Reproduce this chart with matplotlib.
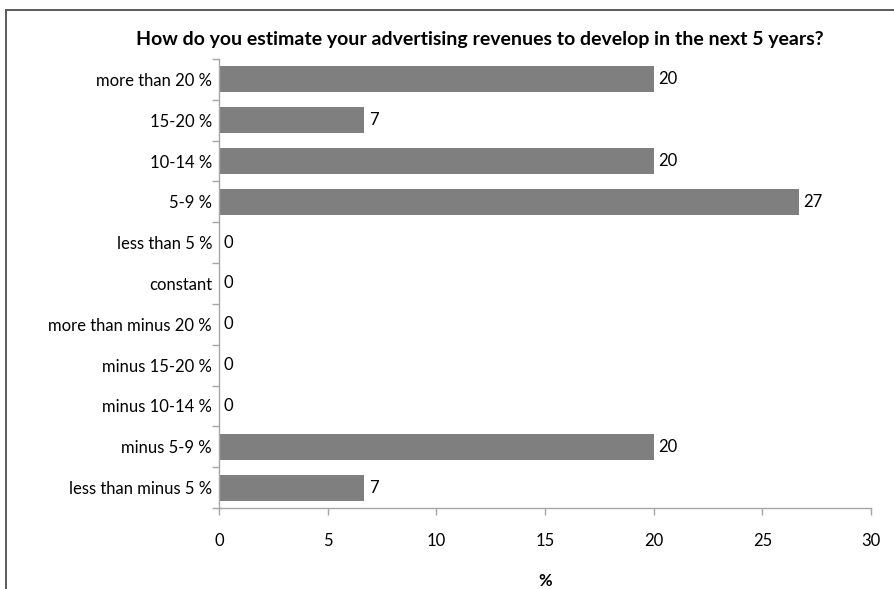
import matplotlib
matplotlib.use("Agg")
import matplotlib.pyplot as plt
from matplotlib.patches import Rectangle
from matplotlib.ticker import FixedLocator, NullFormatter

plt.rcParams['font.family'] = ['Lato', 'DejaVu Sans']

categories = [
    "more than 20 %", "15-20 %", "10-14 %", "5-9 %", "less than 5 %",
    "constant", "more than minus 20 %", "minus 15-20 %", "minus 10-14 %",
    "minus 5-9 %", "less than minus 5 %",
]
values = [20.0, 6.67, 20.0, 26.67, 0, 0, 0, 0, 0, 20.0, 6.67]
x_ticks = [0, 5, 10, 15, 20, 25, 30]

title = "How do you estimate your advertising revenues to develop in the next 5 years?"

W, H = 895, 589
FS = 12
fig = plt.figure(figsize=(W / 100, H / 100), dpi=100)
fig.patch.set_facecolor("white")

# outer chart frame (runs off the right and bottom edges)
fig.patches.append(Rectangle((6 / W, -0.1), 1.2, 1 - 10 / H + 0.1,
                             transform=fig.transFigure, fill=False,
                             edgecolor="#5a5a5a", linewidth=1.4))

ax = fig.add_axes([219 / W, 1 - 508 / H, (871 - 219) / W, (508 - 59) / H])

n = len(categories)
ypos = list(range(n))
ax.barh(ypos, values, height=0.64, color="#7f7f7f", zorder=2)
ax.set_ylim(n - 0.5, -0.5)
ax.set_xlim(0, 30)

for y, v in zip(ypos, values):
    ax.annotate(f"{v:.0f}", (v, y), xytext=(3.5, 0), textcoords="offset points",
                va="center", ha="left", fontsize=FS, color="black")

# y axis: labels at category centres, ticks at category boundaries
ax.set_yticks(ypos)
ax.set_yticklabels(categories, fontsize=FS)
ax.tick_params(axis="y", which="major", length=0, pad=5)
ax.yaxis.set_minor_locator(FixedLocator([i - 0.5 for i in range(n + 1)]))
ax.yaxis.set_minor_formatter(NullFormatter())
ax.tick_params(axis="y", which="minor", length=5, width=1, color="#a6a6a6")

ax.set_xticks(x_ticks)
ax.set_xticklabels([str(t) for t in x_ticks], fontsize=FS)
ax.tick_params(axis="x", length=5, width=1, color="#a6a6a6", pad=13)

for s in ("top", "right"):
    ax.spines[s].set_visible(False)
for s in ("left", "bottom"):
    ax.spines[s].set_color("#a6a6a6")
    ax.spines[s].set_linewidth(1.0)

ax.set_xlabel("%", fontsize=FS, fontweight="bold", labelpad=17)

fig.text(480 / W, 1 - 40 / H, title, ha="center", va="center",
         fontsize=14, fontweight="bold")

fig.savefig("out.png", dpi=100)
